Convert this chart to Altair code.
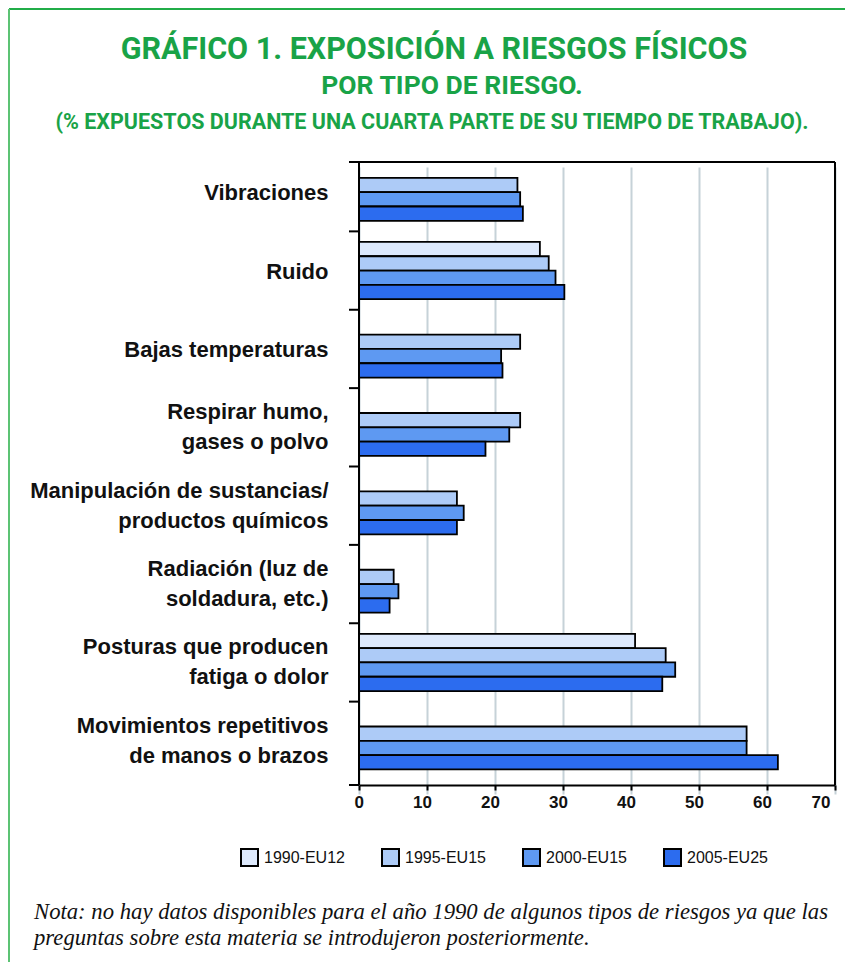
import altair as alt
import pandas as pd

# ---------------- data ----------------
categories = [
    "Vibraciones",
    "Ruido",
    "Bajas temperaturas",
    "Respirar humo,|gases o polvo",
    "Manipulación de sustancias/|productos químicos",
    "Radiación (luz de|soldadura, etc.)",
    "Posturas que producen|fatiga o dolor",
    "Movimientos repetitivos|de manos o brazos",
]
series = ["1990-EU12", "1995-EU15", "2000-EU15", "2005-EU25"]
v1990 = [None, 26.6, None, None, None, None, 40.6, None]
v1995 = [23.3, 27.9, 23.7, 23.7, 14.4, 5.1, 45.1, 57.0]
v2000 = [23.7, 28.9, 20.9, 22.1, 15.4, 5.8, 46.5, 57.0]
v2005 = [24.1, 30.2, 21.1, 18.6, 14.4, 4.5, 44.6, 61.6]
colors = ["#dde9fc", "#adcbf7", "#5e99f2", "#2c6cef"]
x_ticks = [0, 10, 20, 30, 40, 50, 60, 70]

title_lines = [
    "GRÁFICO 1. EXPOSICIÓN A RIESGOS FÍSICOS",
    "POR TIPO DE RIESGO.",
    "(% EXPUESTOS DURANTE UNA CUARTA PARTE DE SU TIEMPO DE TRABAJO).",
]
note_lines = [
    "Nota: no hay datos disponibles para el año 1990 de algunos tipos de riesgos ya que las",
    "preguntas sobre esta materia se introdujeron posteriormente.",
]

rows = []
for i, cat in enumerate(categories):
    for s, vals in zip(series, [v1990, v1995, v2000, v2005]):
        if vals[i] is not None:
            rows.append({"riesgo": cat, "serie": s, "valor": vals[i]})
df = pd.DataFrame(rows)

W, H = 476, 623
GREEN = "#19a347"
SANS = "Liberation Sans, Arial, sans-serif"
TITLE_FONT = "Roboto, sans-serif"
one = alt.Data(values=[{}])

y_axis = alt.Axis(
    title=None, ticks=False, tickSize=0, domain=False, grid=False,
    labelExpr="split(datum.label, '|')", labelFont=SANS, labelFontSize=22,
    labelFontWeight="bold", labelColor="#111111", labelLineHeight=30,
    labelPadding=31, labelLimit=500,
    labelOffset={"condition": {"test": "indexof(datum.value, '|') >= 0", "value": -15},
                 "value": 1},
)
y_scale = alt.Scale(domain=categories, range=[-9, H - 5], paddingInner=0, paddingOuter=0)

bars = alt.Chart(df).mark_bar(stroke="black", strokeWidth=1.8).encode(
    x=alt.X(
        "valor:Q",
        scale=alt.Scale(domain=[0, 70], nice=False),
        axis=alt.Axis(
            values=x_ticks, title=None, grid=True, gridColor="#c6d2d8", gridWidth=2,
            domainColor="black", domainWidth=2, tickColor="black", tickWidth=2,
            tickSize=5, labelPadding=4, labelOffset=-5, labelFont=SANS, labelFontSize=17,
            labelFontWeight="bold", labelColor="#111111",
        ),
    ),
    y=alt.Y("riesgo:N", scale=y_scale, axis=y_axis),
    yOffset=alt.YOffset(
        "serie:N", scale=alt.Scale(domain=series, paddingInner=0, paddingOuter=0.74)
    ),
    color=alt.Color(
        "serie:N",
        scale=alt.Scale(domain=series, range=colors),
        legend=alt.Legend(
            title=None, orient="none", legendX=-119, legendY=686, direction="horizontal",
            symbolType="square", symbolSize=289, symbolStrokeColor="black",
            symbolStrokeWidth=2, symbolOpacity=1, labelFont=SANS, labelFontSize=16,
            labelColor="#111111", labelOffset=5, columnPadding=33, padding=0,
        ),
    ),
)

# small ticks between the category bands
stubs = alt.Chart(pd.DataFrame({"riesgo": categories[1:]})).mark_rule(
    color="black", strokeWidth=2
).encode(
    y=alt.Y("riesgo:N", bandPosition=0, scale=y_scale, axis=y_axis),
    x=alt.value(-10),
    x2=alt.value(0),
)

def rule(x, x2, y, y2, color="black", sw=2):
    return alt.Chart(one).mark_rule(color=color, strokeWidth=sw).encode(
        x=alt.value(x), x2=alt.value(x2), y=alt.value(y), y2=alt.value(y2)
    )

frame = [
    rule(-10, W, 0, 0),      # top
    rule(W, W, 0, H),        # right
    rule(0, 0, 0, H),        # left
    rule(-10, 0, H, H),      # bottom stub
]
green = [
    rule(-350, 486, -153, -153, color="#21ad48", sw=2),
    rule(-350, -350, -153, 800, color="#5cc374", sw=2),
]

def text(s, x, y, size, align="center", font=TITLE_FONT, weight="bold",
         style="normal", color=GREEN):
    return alt.Chart(one).mark_text(
        align=align, baseline="alphabetic", font=font, fontSize=size,
        fontWeight=weight, fontStyle=style, color=color,
    ).encode(x=alt.value(x), y=alt.value(y), text=alt.value(s))

titles = [
    text(title_lines[0], 75, -103, 30.5),
    text(title_lines[1], 93, -68, 26.5),
    text(title_lines[2], 73, -33, 21.5),
]
SERIF = "Liberation Serif, Times New Roman, serif"
notes = [
    text(note_lines[0], -325, 757, 22.7, align="left", font=SERIF, weight="normal",
         style="italic", color="#111111"),
    text(note_lines[1], -325, 783, 22.7, align="left", font=SERIF, weight="normal",
         style="italic", color="#111111"),
]

chart = alt.layer(bars, stubs, *frame, *green, *titles, *notes).properties(
    width=W, height=H, padding=0
).configure_view(stroke=None)

chart.save("out.html", embed_options={"renderer": "svg", "actions": False})
